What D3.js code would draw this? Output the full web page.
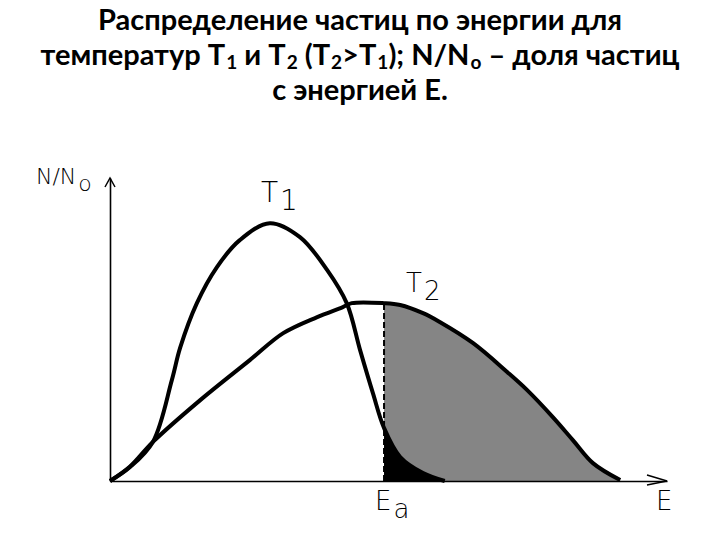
<!DOCTYPE html>
<html>
<head>
<meta charset="utf-8">
<script src="https://cdn.jsdelivr.net/npm/d3@7"></script>
<style>
  body { margin: 0; background: #fff; }
  svg { display: block; }
</style>
</head>
<body>
<script>
// энергия (условные единицы) и доля частиц N/No
var energyT1 = [0, 3.6, 7.7, 11.1, 12.6, 15.6, 19.2, 23.3, 28.7, 34.1, 39.0, 42.5, 44.9, 47.2, 49.2, 52.1, 56.2, 60.1];
var shareT1  = [0, 0.046, 0.129, 0.333, 0.440, 0.587, 0.706, 0.795, 0.851, 0.805, 0.696, 0.587, 0.432, 0.290, 0.175, 0.079, 0.026, 0];

var energyT2 = [0, 3.6, 7.7, 16.2, 25.1, 31.1, 37.2, 41.8, 43.4, 49.2, 52.1, 56.2, 59.2, 65.2, 71.3, 74.9, 79.5, 83.1, 86.7, 91.6];
var shareT2  = [0, 0.048, 0.129, 0.267, 0.399, 0.488, 0.541, 0.574, 0.587, 0.587, 0.581, 0.554, 0.525, 0.455, 0.360, 0.300, 0.211, 0.135, 0.059, 0.003];

var Ea = 49.2;

var titleLines = [
  [["Распределение частиц по энергии для", 0]],
  [["температур T", 0], ["1", 1], [" и T", 0], ["2", 1], [" (T", 0], ["2", 1], [">T", 0], ["1", 1], ["); N/N", 0], ["o", 1], [" – доля частиц", 0]],
  [["с энергией Е.", 0]]
];

var width = 720, height = 540;

var svg = d3.select("body").append("svg")
  .attr("width", width)
  .attr("height", height);

// заголовок
var title = svg.append("text")
  .attr("text-anchor", "middle")
  .attr("font-family", "Lato, 'Open Sans', sans-serif")
  .attr("font-weight", "bold")
  .attr("font-size", 29)
  .attr("fill", "#000");

titleLines.forEach(function(line, i){
  var t = title.append("tspan").attr("x", 360).attr("y", 30 + i * 35);
  line.forEach(function(part){
    t.append("tspan")
      .attr("font-size", part[1] ? 19 : 29)
      .attr("dx", part[1] ? 1 : 0)
      .attr("baseline-shift", part[1] ? "-22%" : null)
      .text(part[0]);
  });
});

var x = d3.scaleLinear().domain([0, 100]).range([110, 667]);
var y = d3.scaleLinear().domain([0, 1]).range([481, 178]);

var t1 = energyT1.map(function(e, i){ return {e: e, v: shareT1[i]}; });
var t2 = energyT2.map(function(e, i){ return {e: e, v: shareT2[i]}; });

var curve = d3.curveCatmullRom.alpha(0.5);

var area = d3.area()
  .x(function(d){ return x(d.e); })
  .y0(y(0))
  .y1(function(d){ return y(d.v); })
  .curve(curve);

var line = d3.line()
  .x(function(d){ return x(d.e); })
  .y(function(d){ return y(d.v); })
  .curve(curve);

svg.append("path")
  .datum(t2.filter(function(d){ return d.e >= Ea; }))
  .attr("d", area)
  .attr("fill", "#858585");

svg.append("path")
  .datum(t1.filter(function(d){ return d.e >= Ea; }))
  .attr("d", area)
  .attr("fill", "#000");

svg.append("line")
  .attr("x1", x(Ea)).attr("x2", x(Ea))
  .attr("y1", y(0)).attr("y2", y(0.587))
  .attr("stroke", "#000")
  .attr("stroke-width", 2)
  .attr("stroke-dasharray", "6,3");

[t1, t2].forEach(function(d){
  svg.append("path")
    .datum(d)
    .attr("d", line)
    .attr("fill", "none")
    .attr("stroke", "#000")
    .attr("stroke-width", 4)
    .attr("stroke-linejoin", "round");
});

// оси без делений
svg.append("g")
  .attr("transform", "translate(0," + y(0) + ")")
  .call(d3.axisBottom(x).tickValues([]).tickSizeOuter(0));
svg.append("g")
  .attr("transform", "translate(" + x(0) + ",0)")
  .call(d3.axisLeft(y).tickValues([]).tickSizeOuter(0));
svg.selectAll(".domain").attr("stroke", "#000").attr("stroke-width", 1.6);

// стрелки
svg.append("path")
  .attr("d", "M" + (x(0) - 5) + "," + (y(1) + 9) + "L" + x(0) + "," + y(1) + "L" + (x(0) + 5) + "," + (y(1) + 9))
  .attr("fill", "none").attr("stroke", "#000").attr("stroke-width", 1.5);
svg.append("path")
  .attr("d", "M" + (x(100) - 20) + "," + (y(0) - 6) + "L" + x(100) + "," + y(0) + "L" + (x(100) - 20) + "," + (y(0) + 4))
  .attr("fill", "none").attr("stroke", "#000").attr("stroke-width", 1.5);

// подписи
function label(px, py, main, sub, size){
  var t = svg.append("text")
    .attr("x", px).attr("y", py)
    .attr("font-family", "'DejaVu Sans', sans-serif")
    .attr("font-weight", 200)
    .attr("font-size", size)
    .attr("fill", "#000");
  t.append("tspan").text(main);
  t.append("tspan").attr("dx", 2).attr("baseline-shift", "-30%").text(sub);
}
label(36, 184, "N/N", "o", 22);
label(261, 202, "T", "1", 28);
label(406, 292, "T", "2", 26);
label(375, 510, "E", "a", 26);
svg.append("text")
  .attr("x", 656).attr("y", 510)
  .attr("font-family", "'DejaVu Sans', sans-serif")
  .attr("font-weight", 200)
  .attr("font-size", 26)
  .text("E");
</script>
</body>
</html>
